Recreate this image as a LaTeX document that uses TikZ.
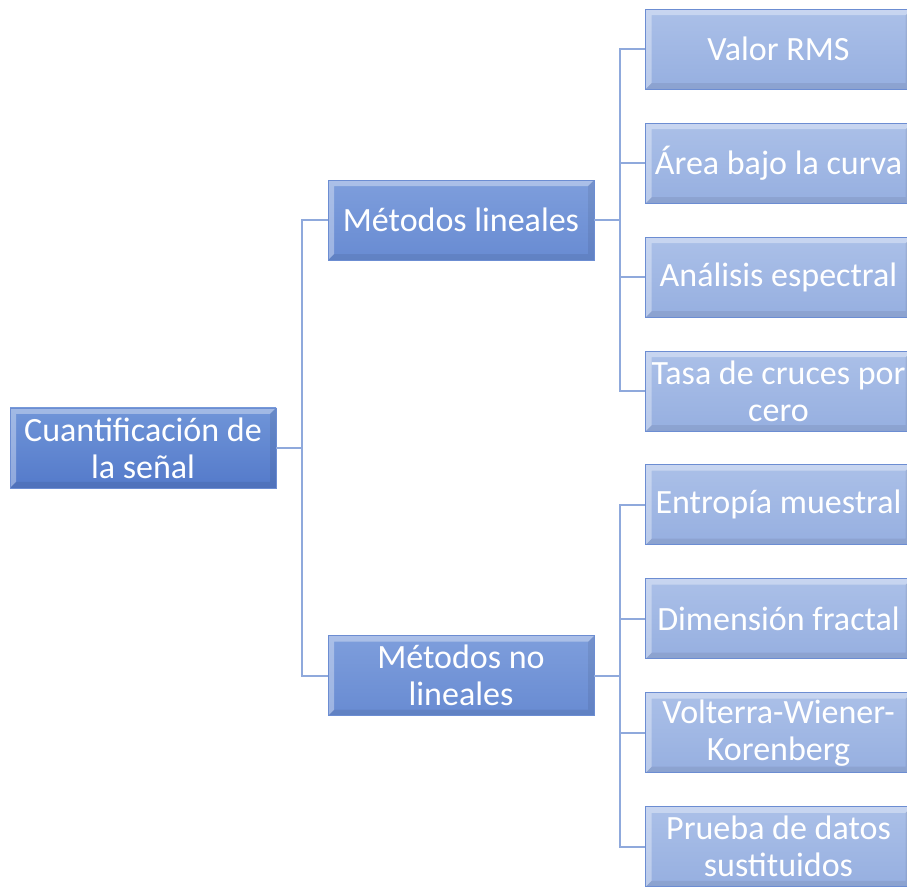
\documentclass[tikz,border=0pt]{standalone}
\usepackage{fontspec}
\setmainfont{Carlito}
\usetikzlibrary{positioning}
\definecolor{linec}{HTML}{8FA9DC}
\definecolor{boxline}{HTML}{6C8DD2}
\tikzset{mytree/.style={grow'=east, level distance=318pt,
edge from parent path={(\tikzparentnode.east) -- ++(26pt,0) |- (\tikzchildnode.west)}},
bevel/.style={path picture={
  \path (path picture bounding box.south west) coordinate (bsw)
        (path picture bounding box.north east) coordinate (bne)
        (bsw|-bne) coordinate (bnw) (bne|-bsw) coordinate (bse);
  \fill[white,opacity=.35] (bsw) -- (bnw) -- (bne) -- ([shift={(-6pt,-6pt)}]bne)
        -- ([shift={(6pt,-6pt)}]bnw) -- ([shift={(6pt,6pt)}]bsw) -- cycle;
  \fill[black,opacity=.07] (bsw) -- (bse) -- (bne) -- ([shift={(-6pt,-6pt)}]bne)
        -- ([shift={(-6pt,6pt)}]bse) -- ([shift={(6pt,6pt)}]bsw) -- cycle;}},
box/.style={draw=boxline, line width=.8pt, bevel, minimum width=266pt, minimum height=80pt,
  inner sep=0pt, align=center, text=white, font=\fontsize{34}{37}\selectfont},
rootbox/.style={box, top color={rgb,255:red,112;green,149;blue,216}, bottom color={rgb,255:red,84;green,122;blue,202}},
midbox/.style={box, top color={rgb,255:red,126;green,158;blue,220}, bottom color={rgb,255:red,104;green,139;blue,210}},
leafbox/.style={box, top color={rgb,255:red,171;green,192;blue,232}, bottom color={rgb,255:red,150;green,175;blue,224}}}

\begin{document}
\begin{tikzpicture}[mytree, x=1pt, y=1pt,
  edge from parent/.style={draw=linec, line width=2pt},
  level 1/.style={sibling distance=455.5pt},
  level 2/.style={sibling distance=114pt, level distance=317.5pt}]
\useasboundingbox (0,0) rectangle (907,886);
\clip (0,0) rectangle (907,886);
\node[rootbox] (root) at (143,438) {Cuantificación de\\la señal}
  child {node[midbox] (lin) {Métodos lineales}
    child {node[leafbox] (rms) {Valor RMS}}
    child {node[leafbox] (area) {Área bajo la curva}}
    child {node[leafbox] (spec) {Análisis espectral}}
    child {node[leafbox] (zc) {Tasa de cruces por\\cero}}
  }
  child {node[midbox] (nolin) {Métodos no\\lineales}
    child {node[leafbox] (ent) {Entropía muestral}}
    child {node[leafbox] (frac) {Dimensión fractal}}
    child {node[leafbox] (vwk) {Volterra-Wiener-\\Korenberg}}
    child {node[leafbox] (surr) {Prueba de datos\\sustituidos}}
  };
\end{tikzpicture}
\end{document}
